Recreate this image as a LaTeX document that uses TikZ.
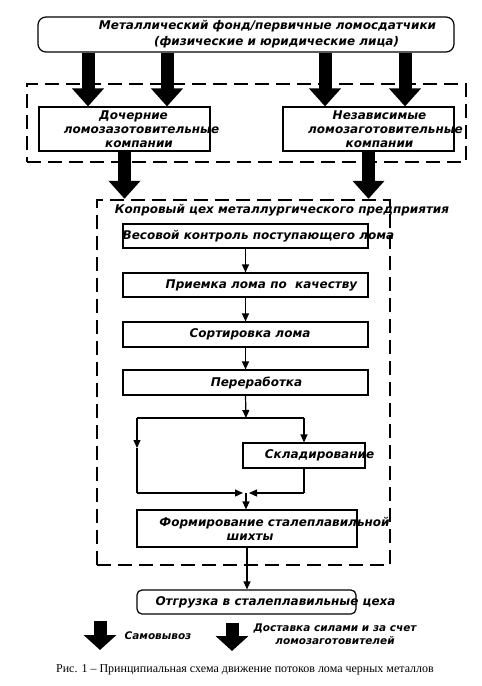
\documentclass[tikz,border=0pt]{standalone}
\usepackage{fontspec}
\setmainfont{DejaVu Sans}
\newfontfamily\capfont{Liberation Serif}
\usetikzlibrary{arrows.meta}
\newcommand\ov[2]{\makebox[0pt]{\hspace*{#1}#2}}
\begin{document}
\begin{tikzpicture}[x=1pt,y=-1pt,
  txt/.style={font=\fontsize{12}{14}\selectfont\bfseries\itshape, align=center, inner sep=1pt},
  box/.style={draw, line width=1.2pt, txt},
  dbox/.style={draw, line width=2.4pt, dash pattern=on 14pt off 7pt},
  big/.style={line width=13pt, -{Triangle[width=31pt,length=18pt]}},
  con/.style={line width=1.2pt, -{Triangle[width=7pt,length=8pt]}},
  ln/.style={line width=1.2pt},
  small/.style={font=\fontsize{10.5}{13.5}\selectfont\bfseries\itshape, align=center, inner sep=1pt}]
\useasboundingbox[fill=white] (0,0) rectangle (482,686);

% groups
\node[dbox, minimum width=439pt, minimum height=78pt] (grp) at (246.5,123) {};
\node[dbox, minimum width=293pt, minimum height=365pt] (shop) at (243.5,382.5) {};

% top
\node[box, rounded corners=8pt, minimum width=416pt, minimum height=35pt, font=\fontsize{12}{16}\selectfont\bfseries\itshape] (top) at (246,34.5)
  {\ov{43pt}{Металлический фонд/первичные ломосдатчики}\\\ov{61pt}{(физические и юридические лица)}};

\node[box, minimum width=171pt, minimum height=44pt] (dl) at (124.5,129)
  {\ov{18pt}{Дочерние}\\\ov{34pt}{ломозазотовительные}\\\ov{29pt}{компании}};
\node[box, minimum width=171pt, minimum height=44pt] (dr) at (368.5,129)
  {\ov{22pt}{Независимые}\\\ov{34pt}{ломозаготовительные}\\\ov{22pt}{компании}};

\coordinate (s1) at ([xshift=-158pt]top.south);
\coordinate (s2) at ([xshift=-79pt]top.south);
\coordinate (s3) at ([xshift=79pt]top.south);
\coordinate (s4) at ([xshift=159pt]top.south);
\draw[big] (s1) -- (s1 |- dl.north);
\draw[big] (s2) -- (s2 |- dl.north);
\draw[big] (s3) -- (s3 |- dr.north);
\draw[big] (s4) -- (s4 |- dr.north);

\draw[big] (dl.south) -- (dl.south |- shop.north);
\draw[big] (dr.south) -- (dr.south |- shop.north);

\node[txt] (shoptitle) at (282,210) {Копровый цех металлургического предприятия};

\node[box, minimum width=245pt, minimum height=24pt] (b1) at (245.5,236) {\ov{26pt}{Весовой контроль поступающего лома}};
\node[box, minimum width=245pt, minimum height=24pt] (b2) at (245.5,285) {\ov{32pt}{Приемка лома по\ \ качеству}};
\node[box, minimum width=245pt, minimum height=25pt] (b3) at (245.5,334.5) {\ov{9pt}{Сортировка лома}};
\node[box, minimum width=245pt, minimum height=25pt] (b4) at (245.5,382.5) {\ov{22pt}{Переработка}};
\node[box, minimum width=122pt, minimum height=25pt] (b5) at (304,455.5) {\ov{31pt}{Складирование}};
\node[box, minimum width=220pt, minimum height=37pt] (b6) at (247,528.5) {\ov{55pt}{Формирование сталеплавильной}\\\ov{6pt}{шихты}};
\node[box, rounded corners=5pt, minimum width=219pt, minimum height=24pt] (b7) at (246.5,602) {\ov{58pt}{Отгрузка в сталеплавильные цеха}};

\draw[con] (b1) -- (b2);
\draw[con] (b2) -- (b3);
\draw[con] (b3) -- (b4);

\coordinate (j1) at (246,418);
\coordinate (jl) at (137,418);
\coordinate (jm) at (137,448);
\coordinate (jb) at (137,493);
\coordinate (j2) at (246,493);
\draw[con] (b4.south) -- (j1);
\draw[ln] (jl) -- (j1 -| b5.north);
\draw[con] (j1 -| b5.north) -- (b5.north);
\draw[con] (jl) -- (jm);
\draw[ln] (jm) -- (jb);
\draw[con] (jb) -- ([xshift=-3pt]j2);
\draw[ln] (b5.south) -- (b5.south |- j2);
\draw[con] (b5.south |- j2) -- ([xshift=3pt]j2);
\draw[con] (j2) -- (j2 |- b6.north);
\draw[con] (b6.south) -- (b6.south |- b7.north);

% legend
\coordinate (la) at (100,621);
\coordinate (lae) at (100,650);
\coordinate (lb) at (232,623);
\coordinate (lbe) at (232,651);
\draw[line width=13pt, -{Triangle[width=32pt,length=15pt]}] (la) -- (lae);
\draw[line width=13pt, -{Triangle[width=32pt,length=15pt]}] (lb) -- (lbe);
\node[small] (lt1) at (158,636) {Самовывоз};
\node[small] (lt2) at (335,634) {Доставка силами и за счет\\ломозаготовителей};

\node[font=\capfont\fontsize{12}{14}\selectfont, inner sep=0pt] (cap) at (245,670)
  {Рис. 1 – Принципиальная схема движение потоков лома черных металлов};
\end{tikzpicture}
\end{document}
